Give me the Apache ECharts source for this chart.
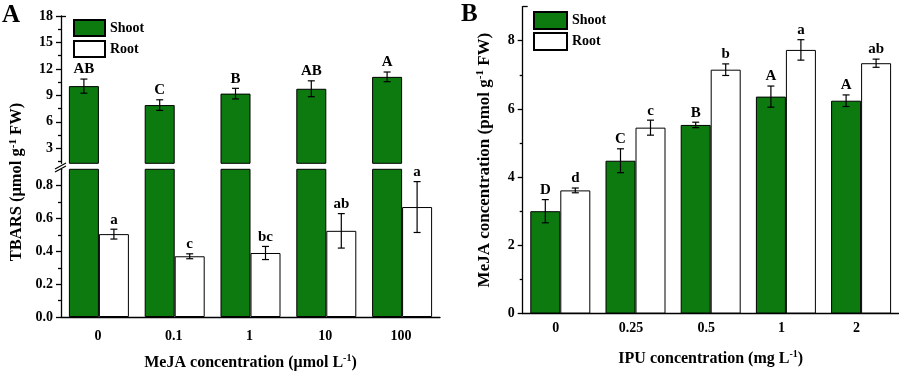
<!DOCTYPE html>
<html><head><meta charset="utf-8">
<script src="https://cdn.jsdelivr.net/npm/echarts@6/dist/echarts.min.js"></script>
<style>html,body{margin:0;padding:0;background:#fff}#c{width:899px;height:372px}</style>
</head><body><div id="c"></div>
<script>
// ---- data ----
const catsA = ['0', '0.1', '1', '10', '100'];
const shootA = [10.05, 7.9, 9.2, 9.75, 11.1];
const shootAErr = [0.8, 0.6, 0.6, 0.9, 0.55];
const rootA = [0.505, 0.37, 0.39, 0.525, 0.67];
const rootAErr = [0.03, 0.015, 0.04, 0.105, 0.155];
const shootALetters = ['AB', 'C', 'B', 'AB', 'A'];
const rootALetters = ['a', 'c', 'bc', 'ab', 'a'];

const catsB = ['0', '0.25', '0.5', '1', '2'];
const shootB = [3.0, 4.48, 5.53, 6.36, 6.24];
const shootBErr = [0.34, 0.35, 0.08, 0.31, 0.17];
const rootB = [3.61, 5.45, 7.15, 7.73, 7.34];
const rootBErr = [0.07, 0.22, 0.17, 0.3, 0.12];
const shootBLetters = ['D', 'C', 'B', 'A', 'A'];
const rootBLetters = ['d', 'c', 'b', 'a', 'ab'];

const upperTicksA = [3, 6, 9, 12, 15, 18];
const upperMinorTicksA = [1.5, 4.5, 7.5, 10.5, 13.5, 16.5];
const lowerTicksA = [0, 0.2, 0.4, 0.6, 0.8];
const lowerMinorTicksA = [0.1, 0.3, 0.5, 0.7];
const ticksB = [0, 2, 4, 6, 8];
const minorTicksB = [1, 3, 5, 7];

// ---- styles ----
const FONT = '"Liberation Serif", "Times New Roman", serif';
const GREEN = '#0d7a10';
const BAR_W = 30;
const lineStyle = { color: '#000', width: 1.3 };
const tickLabel = { color: '#000', fontFamily: FONT, fontWeight: 'bold', fontSize: 14 };
function richFor(size) {
  return {
    n: { fontFamily: FONT, fontWeight: 'bold', fontSize: size, color: '#000', lineHeight: size + 3 },
    sup: { fontFamily: FONT, fontWeight: 'bold', fontSize: Math.round(size * 0.65), color: '#000', lineHeight: 12, verticalAlign: 'top' }
  };
}

function errData(vals, errs) { return vals.map((v, i) => [i, v, errs[i]]); }
function errRender(offset, letters) {
  return function (params, api) {
    const x = api.value(0), v = api.value(1), e = api.value(2);
    const t = api.coord([x, v + e]);
    const b = api.coord([x, v - e]);
    const cx = t[0] + offset;
    const cap = 3.5;
    const st = { stroke: '#000', lineWidth: 1.2 };
    return {
      type: 'group',
      children: [
        { type: 'line', shape: { x1: cx, y1: t[1], x2: cx, y2: b[1] }, style: st },
        { type: 'line', shape: { x1: cx - cap, y1: t[1], x2: cx + cap, y2: t[1] }, style: st },
        { type: 'line', shape: { x1: cx - cap, y1: b[1], x2: cx + cap, y2: b[1] }, style: st },
        { type: 'text', style: { text: letters[params.dataIndex], x: cx, y: t[1] - 2, align: 'center', verticalAlign: 'bottom',
          font: 'bold 15px ' + FONT, fill: '#000' } }
      ]
    };
  };
}

function mainY(grid, min, max, ticks, extra, fmt) {
  const label = Object.assign({ margin: 8, customValues: ticks }, tickLabel);
  if (fmt) label.formatter = fmt;
  return Object.assign({ type: 'value', gridIndex: grid, min, max, position: 'left', splitLine: { show: false },
    axisLine: { show: true, lineStyle }, axisTick: { show: true, length: 5, lineStyle, customValues: ticks },
    axisLabel: label }, extra || {});
}
function minorY(grid, min, max, ticks, len, inside) {
  return { type: 'value', gridIndex: grid, min, max, position: 'left', splitLine: { show: false },
    axisLine: { show: false }, axisTick: { show: true, inside: !!inside, length: len, lineStyle, customValues: ticks },
    axisLabel: { show: false } };
}

const shootStyle = { color: GREEN, borderColor: '#000', borderWidth: 1 };
const rootStyle = { color: '#fff', borderColor: '#000', borderWidth: 1 };
const legendText = { fontFamily: FONT, fontWeight: 'bold', fontSize: 14, color: '#000' };

const option = {
  animation: false,
  backgroundColor: '#fff',
  grid: [
    { left: 61, width: 379, top: 16, height: 147.3 },    // A upper
    { left: 61, width: 379, top: 169.3, height: 147.7 }, // A lower
    { left: 522.7, width: 376, top: 6.6, height: 308.7 } // B
  ],
  xAxis: [
    { type: 'category', gridIndex: 0, data: catsA, axisLine: { show: false }, axisTick: { show: false }, axisLabel: { show: false } },
    { type: 'category', gridIndex: 1, data: catsA, axisLine: { lineStyle }, axisTick: { inside: true, length: 4, lineStyle },
      axisLabel: Object.assign({ margin: 12, padding: [0, 2, 0, 0] }, tickLabel),
      name: '{n|MeJA concentration (μmol L}{sup|-1}{n|)}', nameLocation: 'middle', nameGap: 36,
      nameTextStyle: { rich: richFor(16) } },
    { type: 'category', gridIndex: 2, data: catsB, axisLine: { lineStyle }, axisTick: { inside: true, length: 4, lineStyle },
      axisLabel: Object.assign({ margin: 8, padding: [0, 9, 0, 0] }, tickLabel),
      name: '{n|IPU concentration (mg L}{sup|-1}{n|)}', nameLocation: 'middle', nameGap: 36,
      nameTextStyle: { rich: richFor(16) } }
  ],
  yAxis: [
    mainY(0, 1.3, 18, upperTicksA),                       // 0
    minorY(0, 1.3, 18, upperMinorTicksA, 3),              // 1
    minorY(0, 1.3, 18, [18], 5, true),                    // 2
    mainY(1, 0, 0.9, lowerTicksA, null, v => Number(v).toFixed(1)), // 3
    minorY(1, 0, 0.9, lowerMinorTicksA, 3),               // 4
    mainY(2, 0, 9, ticksB, {
      name: '{n|MeJA concentration (pmol g}{sup|-1}{n| FW)}', nameLocation: 'middle', nameGap: 28,
      nameTextStyle: { rich: richFor(17) } }),            // 5
    minorY(2, 0, 9, minorTicksB, 3),                      // 6
    minorY(2, 0, 9, [9], 5, true)                         // 7
  ],
  legend: [
    { left: 73, top: 19, padding: 0, orient: 'vertical', icon: 'rect', itemWidth: 31, itemHeight: 16, itemGap: 3,
      data: ['Shoot', 'Root'], textStyle: legendText, selectedMode: false },
    { left: 533, top: 11, padding: 0, orient: 'vertical', icon: 'rect', itemWidth: 33, itemHeight: 17, itemGap: 2,
      data: ['Shoot', 'Root'], textStyle: legendText, selectedMode: false }
  ],
  series: [
    { name: 'Shoot', type: 'bar', xAxisIndex: 0, yAxisIndex: 0, data: shootA, barWidth: BAR_W, barGap: '0%', itemStyle: shootStyle },
    { name: 'Root', type: 'bar', xAxisIndex: 0, yAxisIndex: 0, data: rootA.map(() => '-'), barWidth: BAR_W, barGap: '0%', itemStyle: rootStyle },
    { name: 'Shoot', type: 'bar', xAxisIndex: 1, yAxisIndex: 3, data: shootA, barWidth: BAR_W, barGap: '0%', itemStyle: shootStyle },
    { name: 'Root', type: 'bar', xAxisIndex: 1, yAxisIndex: 3, data: rootA, barWidth: BAR_W, barGap: '0%', itemStyle: rootStyle },
    { name: 'Shoot', type: 'bar', xAxisIndex: 2, yAxisIndex: 5, data: shootB, barWidth: BAR_W, barGap: '0%', itemStyle: shootStyle },
    { name: 'Root', type: 'bar', xAxisIndex: 2, yAxisIndex: 5, data: rootB, barWidth: BAR_W, barGap: '0%', itemStyle: rootStyle },
    { name: 'errShootA', type: 'custom', xAxisIndex: 0, yAxisIndex: 0, z: 5, data: errData(shootA, shootAErr),
      encode: { x: 0, y: 1 }, renderItem: errRender(-BAR_W / 2, shootALetters) },
    { name: 'errRootA', type: 'custom', xAxisIndex: 1, yAxisIndex: 3, z: 5, data: errData(rootA, rootAErr),
      encode: { x: 0, y: 1 }, renderItem: errRender(BAR_W / 2, rootALetters) },
    { name: 'errShootB', type: 'custom', xAxisIndex: 2, yAxisIndex: 5, z: 5, data: errData(shootB, shootBErr),
      encode: { x: 0, y: 1 }, renderItem: errRender(-BAR_W / 2, shootBLetters) },
    { name: 'errRootB', type: 'custom', xAxisIndex: 2, yAxisIndex: 5, z: 5, data: errData(rootB, rootBErr),
      encode: { x: 0, y: 1 }, renderItem: errRender(BAR_W / 2, rootBLetters) }
  ],
  graphic: [
    { type: 'text', left: 2, top: 3, style: { text: 'A', font: 'bold 25px ' + FONT, fill: '#000' } },
    { type: 'text', left: 461, top: 2, style: { text: 'B', font: 'bold 25px ' + FONT, fill: '#000' } },
    { type: 'text', x: 17, y: 182, rotation: Math.PI / 2,
      style: { text: '{n|TBARS (μmol g}{sup|-1}{n| FW)}', align: 'center', verticalAlign: 'middle', rich: richFor(16.5) } },
    { type: 'line', shape: { x1: 55, y1: 169, x2: 66, y2: 163 }, style: { stroke: '#000', lineWidth: 1.2 } },
    { type: 'line', shape: { x1: 55, y1: 172, x2: 66, y2: 166 }, style: { stroke: '#000', lineWidth: 1.2 } }
  ]
};

const chart = echarts.init(document.getElementById('c'), null, { renderer: 'canvas' });
chart.setOption(option);
</script>
</body></html>
